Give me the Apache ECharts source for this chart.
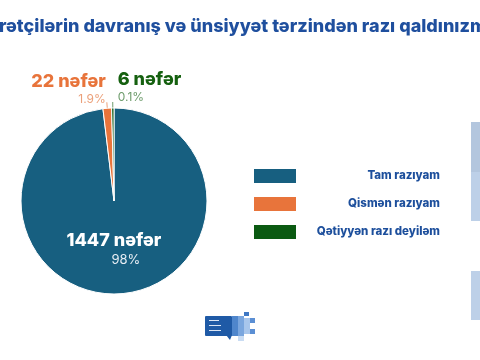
<!DOCTYPE html>
<html><head><meta charset="utf-8">
<script src="https://cdn.jsdelivr.net/npm/echarts@6/dist/echarts.min.js"></script>
<style>html,body{margin:0;padding:0;background:#fff}#c{width:480px;height:360px}</style>
</head><body><div id="c"></div>
<script>
const titleText = 'rətçilərin davranış və ünsiyyət tərzindən razı qaldınızmı?';
const categories = ['Tam razıyam', 'Qismən razıyam', 'Qətiyyən razı deyiləm'];
const counts = [1447, 22, 6];
const percentLabels = ['98%', '1.9%', '0.1%'];
const colors = ['#175f80', '#e8743b', '#0b5a12'];
const countColors = ['#ffffff', '#e8743b', '#15600f'];
const pctColors = ['#e8eef4', '#eba07a', '#6e9c6c'];

const chart = echarts.init(document.getElementById('c'), null, {renderer: 'canvas'});
const data = categories.map((name, i) => ({
  name: name,
  value: counts[i],
  itemStyle: {color: colors[i]},
  label: i === 0 ? {
    show: true, position: 'inside',
    formatter: () => '{c|' + counts[i] + ' nəfər}\n{p|' + percentLabels[i] + '}',
    rich: {
      c: {color: countColors[i], fontFamily: 'Inter', fontWeight: 800, fontSize: 18, lineHeight: 22, align: 'center'},
      p: {color: pctColors[i], fontFamily: 'Inter', fontSize: 13, lineHeight: 18, align: 'center', padding: [0, 0, 0, 24]}
    }
  } : {
    show: true, position: 'outside',
    formatter: () => '{c|' + counts[i] + ' nəfər}\n{p|' + percentLabels[i] + '}',
    rich: {
      c: {color: countColors[i], fontFamily: 'Inter', fontWeight: 800, fontSize: 18, lineHeight: 20, align: i === 1 ? 'right' : 'left'},
      p: {color: pctColors[i], fontFamily: 'Inter', fontSize: 12, lineHeight: 15, align: i === 1 ? 'right' : 'left'}
    }
  },
  labelLine: i === 0 ? {show: false} : {show: true, length: 6, length2: 0, lineStyle: {color: pctColors[i], width: 1}}
}));

chart.setOption({
  animation: false,
  graphic: [
    {type: 'text', left: -1, top: 18, style: {text: titleText, font: '800 18px Inter', fill: '#1f4f9e'}},
    {type: 'rect', shape: {x: 471, y: 122, width: 9, height: 50}, style: {fill: '#b3c6de'}},
    {type: 'rect', shape: {x: 471, y: 172, width: 9, height: 49}, style: {fill: '#bdd0e8'}},
    {type: 'rect', shape: {x: 471, y: 271, width: 9, height: 49}, style: {fill: '#bdd0e8'}},
    {type: 'rect', shape: {x: 205, y: 316, width: 27, height: 20, r: 1}, style: {fill: '#1f5aa6'}},
    {type: 'polygon', shape: {points: [[226, 335], [232, 335], [230, 340]]}, style: {fill: '#1f5aa6'}},
    {type: 'rect', shape: {x: 209, y: 320, width: 10, height: 1}, style: {fill: '#dbe6f5'}},
    {type: 'rect', shape: {x: 209, y: 325, width: 12, height: 1}, style: {fill: '#dbe6f5'}},
    {type: 'rect', shape: {x: 209, y: 330, width: 12, height: 1}, style: {fill: '#dbe6f5'}},
    {type: 'rect', shape: {x: 232, y: 316, width: 6, height: 20}, style: {fill: '#4f86cc'}},
    {type: 'rect', shape: {x: 238, y: 316, width: 6, height: 20}, style: {fill: '#7aa6de'}},
    {type: 'rect', shape: {x: 244, y: 318, width: 6, height: 16}, style: {fill: '#a8c6ec'}},
    {type: 'rect', shape: {x: 250, y: 318, width: 5, height: 5}, style: {fill: '#5b8fd4'}},
    {type: 'rect', shape: {x: 250, y: 329, width: 5, height: 5}, style: {fill: '#5b8fd4'}},
    {type: 'rect', shape: {x: 244, y: 312, width: 5, height: 4}, style: {fill: '#3f78c4'}},
    {type: 'rect', shape: {x: 238, y: 336, width: 6, height: 5}, style: {fill: '#c9dcf3'}}
  ],
  legend: {
    orient: 'vertical', left: 247, top: 162,
    itemWidth: 44, itemHeight: 16, itemGap: 10,
    icon: 'rect',
    data: categories,
    formatter: name => '{a|' + name + '}',
    textStyle: {
      rich: {a: {width: 138, height: 16, lineHeight: 16, align: 'right', color: '#1d4f9c', fontFamily: 'Inter', fontWeight: 800, fontSize: 11.5}}
    }
  },
  series: [{
    type: 'pie',
    center: [114, 201],
    radius: [0, 93],
    startAngle: 90,
    clockwise: true,
    avoidLabelOverlap: false,
    itemStyle: {borderColor: '#ffffff', borderWidth: 1},
    data: data,
    labelLayout: function (params) {
      if (params.dataIndex === 1) return {dy: -13, dx: 4};
      if (params.dataIndex === 2) return {dy: -15, dx: 10, align: 'left'};
      if (params.dataIndex === 0) return {dx: -3, dy: -1};
      return {};
    }
  }]
});
</script></body></html>
